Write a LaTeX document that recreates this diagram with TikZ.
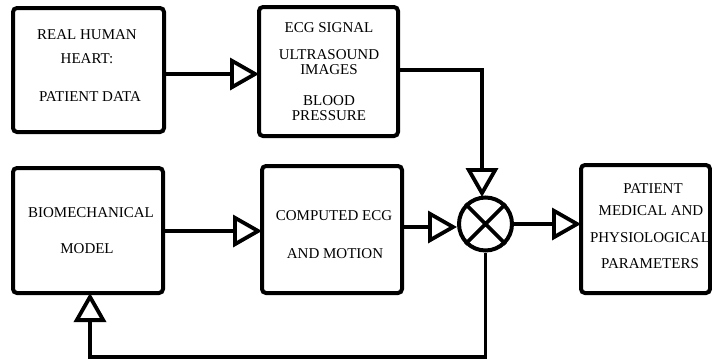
\documentclass[tikz,border=0pt]{standalone}
\usepackage{fontspec}
\setmainfont{Liberation Serif}
\usetikzlibrary{arrows.meta}
\begin{document}
\begin{tikzpicture}[x=1pt,y=-1pt,
  block/.style={draw, line width=4pt, rounded corners=4pt},
  txt/.style={anchor=base, inner sep=0pt, font=\fontsize{15}{15}\selectfont},
  conn/.style={line width=3.8pt, -{Triangle[open, length=29pt 0 0, width=32pt 0 0]}}]
\useasboundingbox (0,0) rectangle (712,360);

% blocks
\path[block] (13,8) rectangle (164,132);
\coordinate (heartE) at (164,74);
\path[block] (259,7) rectangle (398,136);
\coordinate (sigW) at (259,74);
\coordinate (sigE) at (398,70);
\path[block] (13,168) rectangle (163,293);
\coordinate (bioE) at (163,231);
\coordinate (bioS) at (90,293);
\path[block] (262,166) rectangle (402,293);
\coordinate (compW) at (262,231);
\coordinate (compE) at (402,227);
\path[block] (581,165) rectangle (710,293);
\coordinate (parW) at (581,224);

% multiplier junction
\node[draw, circle, line width=4pt, minimum size=53pt, inner sep=0pt] (mix) at (485.5,224) {};
\draw[line width=3.8pt] (mix.45) -- (mix.225) (mix.135) -- (mix.315);

% texts
\node[txt] (h1) at (87,39) {REAL HUMAN};
\node[txt] (h2) at (87,63) {HEART:};
\node[txt] (h3) at (90,101) {PATIENT DATA};

\node[txt] (s1) at (329,32) {ECG SIGNAL};
\node[txt] (s2) at (329,59) {ULTRASOUND};
\node[txt] (s3) at (329,74) {IMAGES};
\node[txt] (s4) at (329,105) {BLOOD};
\node[txt] (s5) at (329,120) {PRESSURE};

\node[txt] (b1) at (91,217) {BIOMECHANICAL};
\node[txt] (b2) at (87,253) {MODEL};

\node[txt] (c1) at (334,220) {COMPUTED ECG};
\node[txt] (c2) at (335,258) {AND MOTION};

\node[txt] (p1) at (653,193) {PATIENT};
\node[txt] (p2) at (651,215) {MEDICAL AND};
\node[txt] (p3) at (650,242) {PHYSIOLOGICAL};
\node[txt] (p4) at (650,268) {PARAMETERS};

% connectors
\draw[conn] (heartE) -- (sigW);
\draw[conn] (bioE) -- (compW);
\draw[conn] (compE) -- (compE -| mix.west);
\draw[conn] (sigE) -| (482,197);
\draw[conn] (mix.east) -- (parW);
\draw[conn] (mix.south) -- (485.5,357) -| (bioS);
\end{tikzpicture}
\end{document}
